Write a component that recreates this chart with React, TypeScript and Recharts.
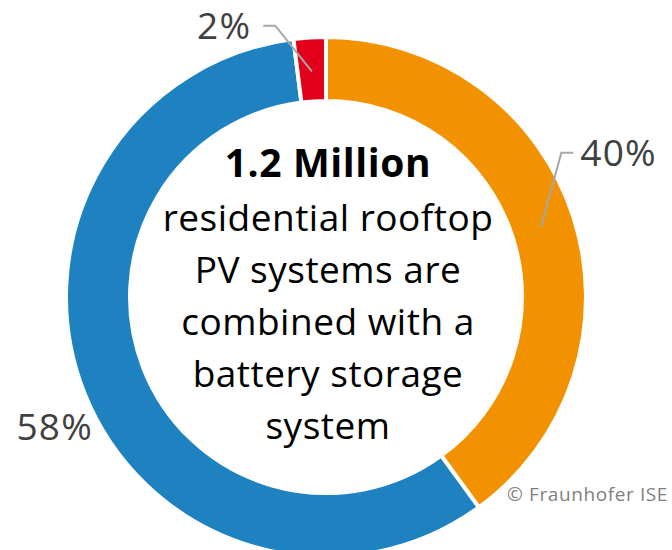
import React from "react";
import { PieChart, Pie, Cell } from "recharts";

const SEGMENTS = ["Storage", "No storage", "Other"];
const SHARES = [40, 58, 2];
const COLORS = ["#f39200", "#1f82c0", "#e2001a"];
const CENTER_TITLE = "1.2 Million";
const CENTER_LINES = [
  "residential rooftop",
  "PV systems are",
  "combined with a",
  "battery storage",
  "system",
];

const data = SEGMENTS.map((name, i) => ({ name, value: SHARES[i] }));

const FONT = "'Open Sans', 'Noto Sans', sans-serif";
const RAD = Math.PI / 180;

// leader line: from middle of ring, to an elbow, then a short horizontal tick
function renderLabel(props: any) {
  const { cx, cy, midAngle, innerRadius, outerRadius, index, value } = props;
  const text = `${value}%`;
  const rMid = (innerRadius + outerRadius) / 2 - 2;
  const px = (r: number, a: number) => cx + r * Math.cos(a * RAD);
  const py = (r: number, a: number) => cy - r * Math.sin(a * RAD);
  const style = { fontFamily: FONT, fontSize: 37, letterSpacing: 1.2 };

  if (index === 1) {
    // no leader line, text sits outside on the left
    const a = midAngle + 3.7;
    return (
      <text x={px(300, a)} y={py(300, a)} textAnchor="middle" dominantBaseline="central" fill="#404040" style={style}>
        {text}
      </text>
    );
  }
  const right = index === 0;
  const elbowA = midAngle + (right ? 13.5 : 7);
  const x0 = px(rMid, midAngle);
  const y0 = py(rMid, midAngle);
  const x1 = px(276, elbowA);
  const y1 = py(276, elbowA);
  const x2 = x1 + (right ? 12 : -12);
  return (
    <g>
      <polyline points={`${x0},${y0} ${x1},${y1} ${x2},${y1}`} fill="none" stroke="#a6a6a6" strokeWidth={2} />
      <text x={x2 + (right ? 7 : -12)} y={y1 - 1} textAnchor={right ? "start" : "end"} dominantBaseline="central"
        fill="#404040" style={style}>
        {text}
      </text>
    </g>
  );
}

export default function App() {
  return (
    <div style={{ position: "absolute", left: 0, top: 0, width: 672, height: 550, background: "#fff", overflow: "hidden" }}>
      <PieChart width={672} height={550} margin={{ top: 0, right: 0, bottom: 0, left: 0 }}>
        <Pie
          data={data}
          dataKey="value"
          cx={326}
          cy={297}
          innerRadius={196}
          outerRadius={260}
          startAngle={90}
          endAngle={-270}
          stroke="#ffffff"
          strokeWidth={4}
          label={renderLabel}
          labelLine={false}
          isAnimationActive={false}
        >
          {data.map((d, i) => (
            <Cell key={d.name} fill={COLORS[i]} />
          ))}
        </Pie>
      </PieChart>
      <svg width={672} height={550} style={{ position: "absolute", left: 0, top: 0, pointerEvents: "none" }}>
        <text x={328} y={177} textAnchor="middle" fill="#000"
          style={{ fontFamily: FONT, fontWeight: 700, fontSize: 39, letterSpacing: 0.6 }}>
          {CENTER_TITLE}
        </text>
        {CENTER_LINES.map((line, i) => (
          <text key={line} x={328} y={231 + i * 52} textAnchor="middle" fill="#000"
            style={{ fontFamily: FONT, fontSize: 37, letterSpacing: 0.5 }}>
            {line}
          </text>
        ))}
        <text x={668} y={501} textAnchor="end" fill="#7f7f7f"
          style={{ fontFamily: FONT, fontSize: 19, letterSpacing: 0.6 }}>
          © Fraunhofer ISE
        </text>
      </svg>
    </div>
  );
}
